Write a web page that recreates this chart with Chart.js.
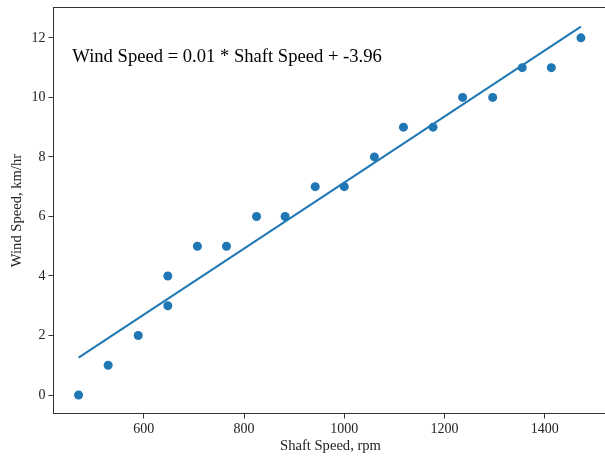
<!DOCTYPE html>
<html>
<head>
<meta charset="utf-8">
<script src="https://cdn.jsdelivr.net/npm/chart.js@4/dist/chart.umd.min.js"></script>
<style>
  html, body { margin: 0; padding: 0; background: #fff; overflow: hidden; }
  #wrap { width: 612px; height: 458px; }
</style>
</head>
<body>
<div id="wrap"><canvas id="c" width="612" height="458"></canvas></div>
<script>
// Shaft speed (rpm) against measured wind speed (km/hr)
const shaftSpeed = [470, 529, 589, 648, 648, 707, 765, 825, 882, 942, 1000, 1060, 1118, 1177, 1236, 1296, 1355, 1413, 1472];
const windSpeed  = [0, 1, 2, 3, 4, 5, 5, 6, 6, 7, 7, 8, 9, 9, 10, 10, 11, 11, 12];

// Fitted linear model
const slope = 0.0111;
const intercept = -3.96;

const xTicks = [600, 800, 1000, 1200, 1400];
const yTicks = [0, 2, 4, 6, 8, 10, 12];

const points = shaftSpeed.map((x, i) => ({ x: x, y: windSpeed[i] }));
const xMin = Math.min(...shaftSpeed), xMax = Math.max(...shaftSpeed);
const fitLine = [xMin, xMax].map(x => ({ x: x, y: slope * x + intercept }));

const serif = "'Liberation Serif', 'Times New Roman', serif";
const blue = '#1f77b4';
const spine = '#333333';

// Four spines around the plotting area
const frame = {
  id: 'frame',
  afterDraw(chart) {
    const { ctx, chartArea: a } = chart;
    ctx.save();
    ctx.strokeStyle = spine;
    ctx.lineWidth = 1;
    ctx.strokeRect(a.left, a.top, a.right - a.left, a.bottom - a.top);
    ctx.restore();
  }
};

const equation = {
  id: 'equation',
  afterDatasetsDraw(chart) {
    const { ctx, chartArea: a } = chart;
    const text = 'Wind Speed = ' + slope.toFixed(2) + ' * Shaft Speed + ' + intercept.toFixed(2);
    ctx.save();
    ctx.fillStyle = '#000';
    ctx.font = '18.6px ' + serif;
    ctx.textBaseline = 'alphabetic';
    ctx.textAlign = 'left';
    ctx.fillText(text, a.left + 0.034 * (a.right - a.left), a.top + 0.134 * (a.bottom - a.top));
    ctx.restore();
  }
};

const plain = v => String(v);

new Chart(document.getElementById('c'), {
  type: 'scatter',
  data: {
    datasets: [
      {
        label: 'fit',
        type: 'line',
        data: fitLine,
        borderColor: blue,
        borderWidth: 2,
        pointRadius: 0,
        fill: false,
        tension: 0
      },
      {
        label: 'measured',
        data: points,
        backgroundColor: blue,
        borderColor: blue,
        borderWidth: 0,
        pointRadius: 4.5,
        pointHoverRadius: 4.5
      }
    ]
  },
  options: {
    responsive: false,
    animation: false,
    events: [],
    layout: { padding: { top: 7.5, right: 2, left: 0, bottom: 0 } },
    plugins: { legend: { display: false }, tooltip: { enabled: false } },
    scales: {
      x: {
        type: 'linear',
        min: 420,
        max: 1525,
        afterBuildTicks(s) { s.ticks = xTicks.map(v => ({ value: v })); },
        afterFit(s) { s.height = 44.5; s.paddingLeft = 0; s.paddingRight = 0; },
        grid: { drawOnChartArea: false, drawTicks: true, tickLength: 5, tickColor: spine, tickWidth: 1 },
        border: { display: false },
        ticks: { color: '#222', font: { family: serif, size: 14 }, padding: 2, maxRotation: 0, callback: plain },
        title: { display: true, text: 'Shaft Speed, rpm', color: '#222', font: { family: serif, size: 14.6 }, padding: { top: 0, bottom: 3 } }
      },
      y: {
        type: 'linear',
        min: -0.62,
        max: 13.02,
        afterBuildTicks(s) { s.ticks = yTicks.map(v => ({ value: v })); },
        afterFit(s) { s.width = 53.5; s.paddingTop = 0; s.paddingBottom = 0; },
        grid: { drawOnChartArea: false, drawTicks: true, tickLength: 5, tickColor: spine, tickWidth: 1 },
        border: { display: false },
        ticks: { color: '#222', font: { family: serif, size: 14 }, padding: 3, callback: plain },
        title: { display: true, text: 'Wind Speed, km/hr', color: '#222', font: { family: serif, size: 14.6 }, padding: { top: 8, bottom: 0 } }
      }
    }
  },
  plugins: [frame, equation]
});
</script>
</body>
</html>
